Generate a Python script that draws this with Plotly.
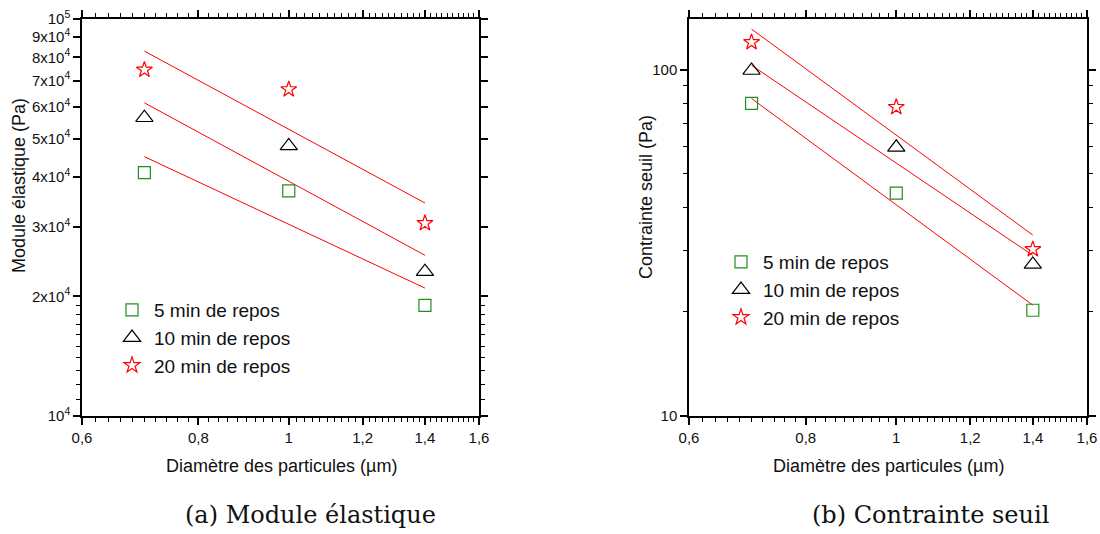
import numpy as np
import plotly.graph_objects as go

# ---- data ----
diam = [0.7, 1.0, 1.4]
series_names = ["5 min de repos", "10 min de repos", "20 min de repos"]

# (a) Module élastique (Pa)
G_5 = [41000, 36900, 19000]
G_10 = [56400, 47900, 23100]
G_20 = [74500, 66500, 30600]
# fit lines (endpoints at 0.7 and 1.4 µm)
fitG_5 = [45000, 21000]
fitG_10 = [61500, 25400]
fitG_20 = [83000, 34400]

# (b) Contrainte seuil (Pa)
T_5 = [80, 44, 20.2]
T_10 = [99.5, 59.7, 27.4]
T_20 = [120, 78, 30.3]
fitT_5 = [82.6, 20.9]
fitT_10 = [103, 29.1]
fitT_20 = [131, 33.3]

fit_x = [0.7, 1.4]

x_ticks = [0.6, 0.8, 1.0, 1.2, 1.4, 1.6]
x_ticktext = ["0,6", "0,8", "1", "1,2", "1,4", "1,6"]
yA_ticks = [1e4, 2e4, 3e4, 4e4, 5e4, 6e4, 7e4, 8e4, 9e4, 1e5]
yA_ticktext = ["10<sup>4</sup>", "2x10<sup>4</sup>", "3x10<sup>4</sup>", "4x10<sup>4</sup>",
               "5x10<sup>4</sup>", "6x10<sup>4</sup>", "7x10<sup>4</sup>", "8x10<sup>4</sup>",
               "9x10<sup>4</sup>", "10<sup>5</sup>"]
yB_ticks = [10, 100]
yB_ticktext = ["10", "100"]
yB_minor = [20, 30, 40, 50, 60, 70, 80, 90]
yA_minor = [1.1e4, 1.2e4, 1.3e4, 1.4e4, 1.5e4, 1.6e4, 1.7e4, 1.8e4, 1.9e4]

colors = ["#1f8f1f", "#000000", "#ff0000"]
symbols = ["square-open", "triangle-up-open", "star-open"]
sizes = [12, 15, 12]

W, H = 1100, 534
def px(x):
    return x / W
def py(y):
    return 1 - y / H

fig = go.Figure()

panels = [
    ("x", "y", [G_5, G_10, G_20], [fitG_5, fitG_10, fitG_20], "legend"),
    ("x2", "y2", [T_5, T_10, T_20], [fitT_5, fitT_10, fitT_20], "legend2"),
]
for xa, ya, vals, fits, leg in panels:
    for f in fits:
        fig.add_trace(go.Scatter(x=fit_x, y=f, mode="lines", xaxis=xa, yaxis=ya,
                                 line=dict(color="#ff0000", width=1), showlegend=False,
                                 hoverinfo="skip"))
    for i, v in enumerate(vals):
        fig.add_trace(go.Scatter(x=diam, y=v, mode="markers", name=series_names[i],
                                 xaxis=xa, yaxis=ya, legend=leg,
                                 marker=dict(symbol=symbols[i], size=sizes[i],
                                             color=colors[i], line=dict(width=1.2, color=colors[i]))))

tickfont = dict(family="Liberation Sans, Arial", size=15, color="#111")
minor_x = [round(v, 2) for v in np.arange(0.62, 1.6, 0.02) if round(v, 2) not in x_ticks]

def xaxis(dom, anchor):
    return dict(type="log", domain=dom, anchor=anchor,
                range=[np.log10(0.6), np.log10(1.6)],
                tickvals=x_ticks, ticktext=x_ticktext, ticks="outside", ticklen=7,
                tickwidth=1.5, tickcolor="black",
                minor=dict(tickvals=minor_x, ticks="outside", ticklen=4, tickwidth=1, tickcolor="black"),
                showline=True, linecolor="black", linewidth=1.5, mirror="allticks",
                showgrid=False, zeroline=False, tickfont=tickfont, automargin=False)

def yaxis(dom, anchor, rng, tv, tt, minor):
    return dict(type="log", domain=dom, anchor=anchor, range=rng,
                tickvals=tv, ticktext=tt, ticks="outside", ticklen=7,
                tickwidth=1.5, tickcolor="black",
                minor=dict(tickvals=minor, ticks="outside", ticklen=4, tickwidth=1, tickcolor="black"),
                showline=True, linecolor="black", linewidth=1.5, mirror="allticks",
                showgrid=False, zeroline=False, tickfont=tickfont, automargin=False)

legfont = dict(family="Liberation Sans, Arial", size=19, color="#111")
ydom = [py(416), py(19)]
fig.update_layout(
    width=W, height=H, margin=dict(l=0, r=0, t=0, b=0, autoexpand=False),
    paper_bgcolor="white", plot_bgcolor="white",
    xaxis=xaxis([px(82), px(479)], "y"),
    yaxis=yaxis(ydom, "x", [4, 5], yA_ticks, yA_ticktext, yA_minor),
    xaxis2=xaxis([px(689), px(1087)], "y2"),
    yaxis2=yaxis(ydom, "x2", [1, 2.1465], yB_ticks, yB_ticktext, yB_minor),
    legend=dict(x=px(110), y=py(291), xanchor="left", yanchor="top",
                bgcolor="rgba(0,0,0,0)", font=legfont, itemwidth=34,
                itemsizing="trace", tracegroupgap=0),
    legend2=dict(x=px(719), y=py(243), xanchor="left", yanchor="top",
                 bgcolor="rgba(0,0,0,0)", font=legfont, itemwidth=34,
                 itemsizing="trace", tracegroupgap=0),
    showlegend=True,
)

lab = dict(family="Liberation Sans, Arial", size=18, color="#111")
sub = dict(family="DejaVu Serif", size=24, color="#111")
ann = [
    dict(text="Module élastique (Pa)", x=px(19), y=py(186), textangle=-90, font=lab),
    dict(text="Contrainte seuil (Pa)", x=px(646), y=py(197), textangle=-90, font=lab),
    dict(text="Diamètre des particules (µm)", x=px(281), y=py(466), font=lab),
    dict(text="Diamètre des particules (µm)", x=px(888), y=py(466), font=lab),
    dict(text="(a) Module élastique", x=px(310), y=py(515), font=sub),
    dict(text="(b) Contrainte seuil", x=px(930), y=py(515), font=sub),
]
for a in ann:
    fig.add_annotation(xref="paper", yref="paper", showarrow=False,
                       xanchor="center", yanchor="middle", **a)

fig.write_html("out.html", config={"displayModeBar": False},
               post_script="document.body.style.margin='0';document.body.style.overflow='hidden';")
